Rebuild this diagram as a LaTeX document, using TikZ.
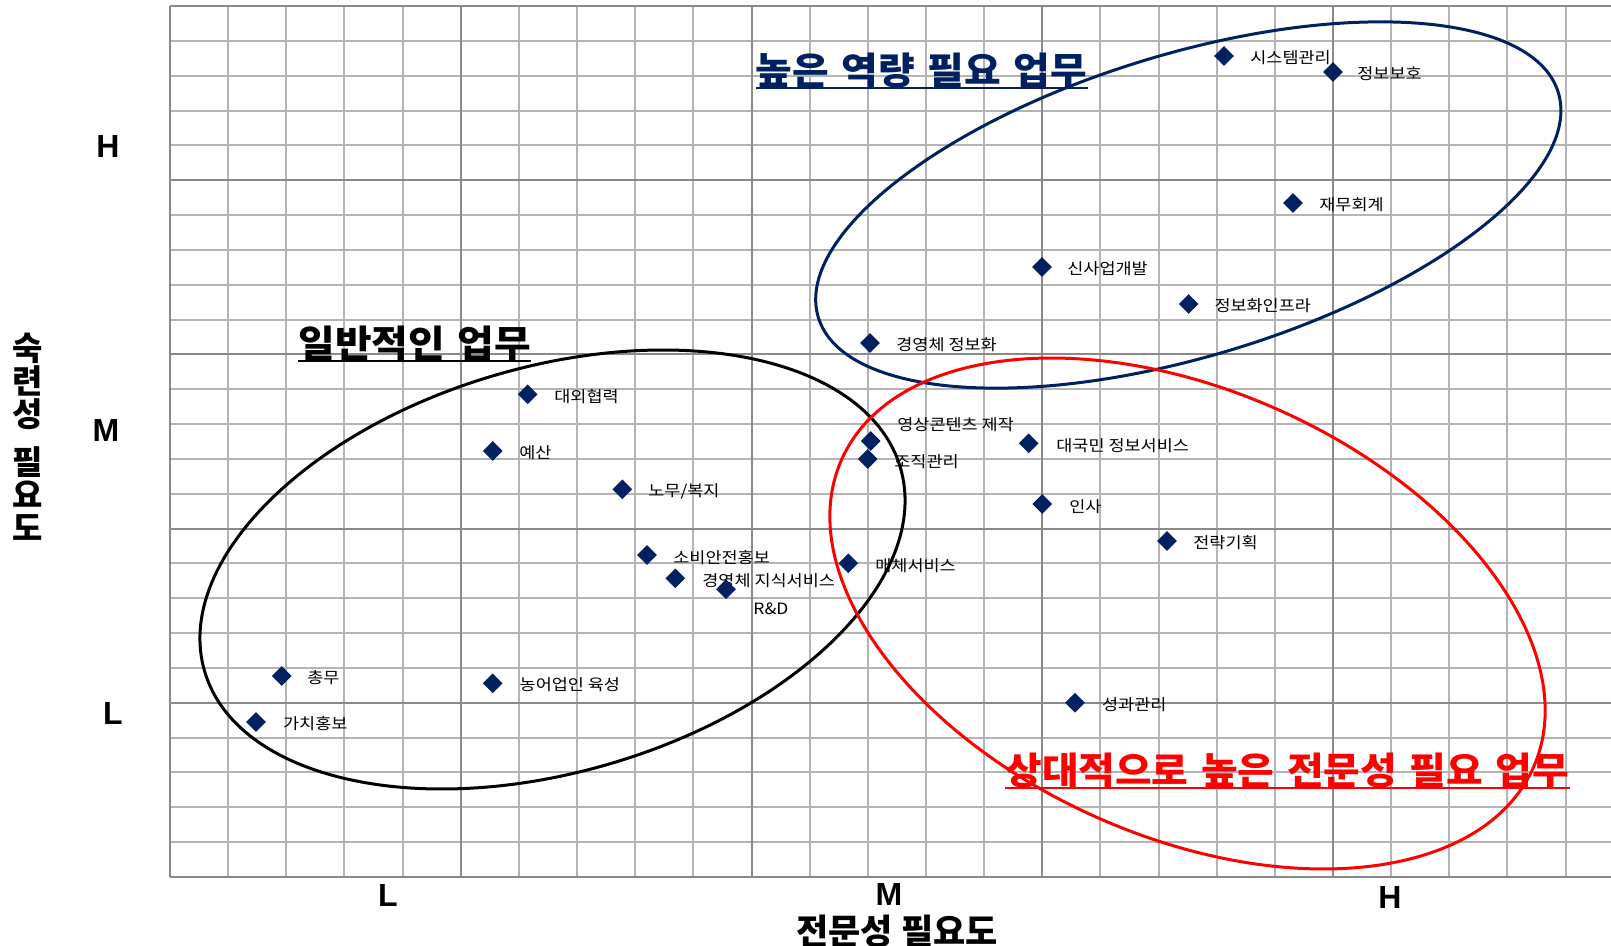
\documentclass[tikz,border=0pt]{standalone}
\usepackage{fontspec}
\setmainfont{Noto Sans CJK KR}
\newfontfamily\latfont{Liberation Sans}
\newfontfamily\lblfont[FakeStretch=1.12]{Noto Sans CJK KR}
\newfontfamily\ttlfont[FakeStretch=1.065]{Noto Sans CJK KR}
\usetikzlibrary{shapes.geometric}
\definecolor{navy}{HTML}{002060}
\definecolor{gminor}{HTML}{B4B4B4}
\definecolor{gmajor}{HTML}{8A8A8A}
\definecolor{redc}{HTML}{FF0000}
\newcommand{\wsp}{\hspace{0.34em}}
\newcommand{\mkpt}[6]{%
  \node[mk] (#1) at (#2,#3) {};
  \node[lbl] (#1l) at ([shift={(#5,#6)}]#1.center) {#4};}
\begin{document}
\begin{tikzpicture}[x=0.5pt,y=-0.5pt,
  mk/.style={diamond, fill=navy, inner sep=0pt, minimum width=10pt, minimum height=10pt},
  lbl/.style={anchor=west, inner sep=0pt, font=\lblfont\fontsize{7.8pt}{9pt}\selectfont, text=black},
  ttl/.style={anchor=base west, inner sep=0pt, font=\ttlfont\fontsize{18.7pt}{22pt}\selectfont\bfseries},
  axl/.style={inner sep=0pt, font=\latfont\fontsize{16pt}{18pt}\selectfont\bfseries},
  minorline/.style={draw=gminor, line width=1pt},
  majorline/.style={draw=gmajor, line width=1pt},
  grp/.style={line width=1.5pt}
]
\useasboundingbox (0,0) rectangle (1611,946);
\fill[white] (0,0) rectangle (1611,946);
% grid
\foreach \k in {0,...,25} {\draw[minorline] (170,{6+\k*34.84}) -- (1611,{6+\k*34.84});}
\foreach \k in {0,...,24} {\draw[minorline] ({170+\k*58.15},6) -- ({170+\k*58.15},877);}
\foreach \k in {0,5,...,25} {\draw[majorline] (170,{6+\k*34.84}) -- (1611,{6+\k*34.84});}
\foreach \k in {0,5,...,20} {\draw[majorline] ({170+\k*58.15},6) -- ({170+\k*58.15},877);}
% group ellipses
\draw[grp, navy, rotate around={16.9:(1188.3,205)}] (1188.3,205) ellipse [x radius=386.7, y radius=151.1];
\draw[grp, black, rotate around={16.3:(552.5,569.5)}] (552.5,569.5) ellipse [x radius=362.5, y radius=202.6];
\draw[grp, redc, rotate around={-24:(1187.5,613.5)}] (1187.5,613.5) ellipse [x radius=378.6, y radius=223.1];
% data points
\mkpt{d1}{1224}{56}{시스템관리}{26}{2}
\mkpt{d2}{1333}{72}{정보보호}{24}{2}
\mkpt{d3}{1293}{203}{재무회계}{26}{2}
\mkpt{d4}{1042}{267}{신사업개발}{25}{2}
\mkpt{d5}{1188.6}{304}{정보화인프라}{25.5}{2}
\mkpt{d6}{870}{343}{경영체 정보화}{26}{2}
\mkpt{d7}{527.7}{394.3}{대외협력}{26.3}{2.2}
\mkpt{d8}{492.7}{451}{예산}{26.3}{2}
\mkpt{d9}{622.3}{489.3}{노무/복지}{25.7}{2}
\mkpt{d10}{870.7}{441}{영상콘텐츠 제작}{26.3}{-16}
\mkpt{d11}{867.7}{459}{조직관리}{26.3}{2.5}
\mkpt{d12}{1028.7}{443.3}{대국민 정보서비스}{27.3}{2.7}
\mkpt{d13}{1042.3}{504}{인사}{26.7}{2.5}
\mkpt{d14}{1167}{541}{전략기획}{26}{2}
\mkpt{d15}{848.3}{563.3}{매체서비스}{26.7}{2.2}
\mkpt{d16}{647}{555}{소비안전홍보}{26}{3}
\mkpt{d17}{675.3}{578.3}{경영체 지식서비스}{26.7}{2.2}
\mkpt{d18}{726}{589.3}{R\&D}{27}{19.7}
\mkpt{d19}{281.7}{676}{총무}{25.3}{2}
\mkpt{d20}{256}{722}{가치홍보}{26.7}{2}
\mkpt{d21}{492.7}{683.3}{농어업인 육성}{26.6}{1.7}
\mkpt{d22}{1075}{702.7}{성과관리}{26.7}{2.3}
% group titles
\node[ttl, text=navy] (tnavy) at (755.5,85) {높은\wsp 역량\wsp 필요\wsp 업무};
\draw[navy, line width=1pt] ([yshift=-1.75pt]tnavy.base west) -- ([yshift=-1.75pt]tnavy.base east);
\node[ttl, text=black] (tblack) at (298,357.5) {일반적인\wsp 업무};
\draw[black, line width=1pt] ([yshift=-1.75pt]tblack.base west) -- ([yshift=-1.75pt]tblack.base east);
\node[ttl, text=redc] (tred) at (1005,784) {상대적으로\wsp 높은\wsp 전문성\wsp 필요\wsp 업무};
\draw[redc, line width=1pt] ([yshift=-1.75pt]tred.base west) -- ([yshift=-1.75pt]tred.base east);
% axis tick labels
\node[axl] (yh) at (108,146) {H};
\node[axl] (ym) at (106,430) {M};
\node[axl] (yl) at (113,713) {L};
\node[axl] (xl) at (388,895) {L};
\node[axl] (xm) at (889,894) {M};
\node[axl] (xh) at (1390,897) {H};
% axis titles
\node[inner sep=0pt, align=center, font=\fontsize{16.5pt}{16.5pt}\selectfont\bfseries] (ytitle) at (28,437) {숙\\련\\성\\[7.75pt]필\\요\\도};
\node[inner sep=0pt, font=\fontsize{17.5pt}{20pt}\selectfont\bfseries] (xtitle) at (897,931) {전문성 필요도};
\end{tikzpicture}
\end{document}
